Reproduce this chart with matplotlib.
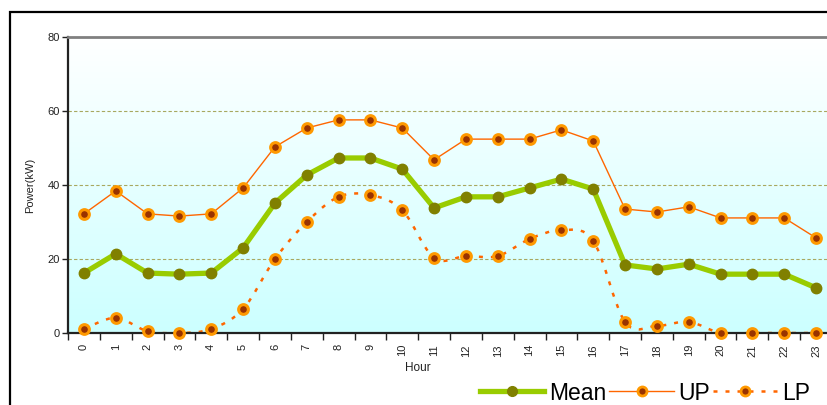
import numpy as np
import matplotlib
matplotlib.use("Agg")
import matplotlib.pyplot as plt
from matplotlib.path import Path
from matplotlib.patches import PathPatch, Rectangle
from matplotlib.lines import Line2D

plt.rcParams['font.family'] = ['Liberation Sans', 'DejaVu Sans']

hours = list(range(24))
mean_kw = [16.2, 21.4, 16.2, 15.9, 16.2, 23.0, 35.1, 42.7, 47.3, 47.3, 44.3, 33.8,
           36.8, 36.8, 39.2, 41.6, 38.9, 18.4, 17.3, 18.6, 15.9, 15.9, 15.9, 12.2]
up_kw = [32.2, 38.4, 32.2, 31.6, 32.2, 39.2, 50.3, 55.4, 57.6, 57.6, 55.4, 46.8,
         52.4, 52.4, 52.4, 54.9, 51.9, 33.5, 32.7, 34.1, 31.1, 31.1, 31.1, 25.7]
lp_kw = [1.1, 4.1, 0.5, 0.0, 1.1, 6.5, 20.0, 30.0, 36.8, 37.3, 33.2, 20.3,
         20.8, 20.8, 25.4, 27.8, 24.9, 3.0, 1.9, 3.0, 0.0, 0.0, 0.0, 0.0]
y_ticks = [0, 20, 40, 60, 80]


def smooth_path(xs, ys):
    """Catmull-Rom style bezier path through the given points."""
    pts = np.column_stack([xs, ys]).astype(float)
    n = len(pts)
    verts = [pts[0]]
    codes = [Path.MOVETO]
    for i in range(n - 1):
        p0 = pts[i - 1] if i > 0 else pts[i]
        p1 = pts[i]
        p2 = pts[i + 1]
        p3 = pts[i + 2] if i + 2 < n else pts[i + 1]
        c1 = p1 + (p2 - p0) / 6.0
        c2 = p2 - (p3 - p1) / 6.0
        verts += [c1, c2, p2]
        codes += [Path.CURVE4] * 3
    return Path(verts, codes)


W, H = 827, 405
fig = plt.figure(figsize=(W / 100, H / 100), dpi=100)
ax = fig.add_axes([68 / W, 1 - 333 / H, (832 - 68) / W, (333 - 37) / H])

# outer chart frame
fig.patches.append(Rectangle((10 / W, -0.2), 1.2, 0.2 + (1 - 12 / H),
                             transform=fig.transFigure, fill=False,
                             edgecolor='black', linewidth=1.6, clip_on=False))

# background gradient, white at top to pale cyan at bottom
grad = np.linspace(0, 1, 256).reshape(-1, 1, 1)
top = np.array([1.0, 1.0, 1.0])
bottom = np.array([0xcc, 0xff, 0xff]) / 255.0
img = top + (bottom - top) * grad
ax.imshow(img, extent=[-0.5, 23.5, 0, 80], aspect='auto', origin='upper', zorder=0)

ax.set_xlim(-0.5, 23.5)
ax.set_ylim(0, 80)

for yv in [20, 40, 60]:
    ax.axhline(yv, color='#a8a860', linewidth=0.8, linestyle=(0, (3, 2)), zorder=1)

orange_marker = dict(marker='o', markersize=7, markerfacecolor='#993300',
                     markeredgecolor='#ff9900', markeredgewidth=2.2)

# LP: smoothed dashed line
lp_patch = PathPatch(smooth_path(hours, lp_kw), fill=False, edgecolor='#ff6600',
                     linewidth=1.8, linestyle=(0, (1.6, 3.2)), zorder=2)
ax.add_patch(lp_patch)
ax.plot(hours, lp_kw, linestyle='none', zorder=5, clip_on=False, **orange_marker)

ax.plot(hours, up_kw, color='#ff6600', linewidth=1.0, zorder=4, **orange_marker)

ax.plot(hours, mean_kw, color='#99cc00', linewidth=3.8, marker='o', markersize=7.5,
        markerfacecolor='#808000', markeredgecolor='#808000', zorder=6)

# axes styling
ax.spines['top'].set_color('#808080')
ax.spines['top'].set_linewidth(2.0)
ax.spines['left'].set_color('#222222')
ax.spines['left'].set_linewidth(1.6)
ax.spines['bottom'].set_color('#222222')
ax.spines['bottom'].set_linewidth(1.6)
ax.spines['right'].set_visible(False)

ax.set_yticks(y_ticks)
ax.set_yticklabels([str(v) for v in y_ticks])
ax.tick_params(axis='y', direction='out', length=4, width=1, pad=2,
               labelsize=8, colors='#222222')

ax.set_xticks(np.arange(-0.5, 24, 1.0))
ax.set_xticklabels([])
ax.set_xticks(hours, minor=True)
ax.set_xticklabels([str(h) for h in hours], minor=True, rotation=90, fontsize=8)
ax.tick_params(axis='x', which='major', direction='out', length=5, width=1, color='#222222')
ax.tick_params(axis='x', which='minor', length=0, pad=8, colors='#222222')

ax.set_ylabel('Power(kW)', fontsize=8, color='#222222')
ax.yaxis.set_label_coords(-0.043, 0.5)
ax.set_xlabel('Hour', fontsize=8.5, color='#222222')
ax.xaxis.set_label_coords(0.458, -0.097)

handles = [
    Line2D([], [], color='#99cc00', linewidth=3.8, marker='o', markersize=7,
           markerfacecolor='#808000', markeredgecolor='#808000'),
    Line2D([], [], color='#ff6600', linewidth=1.0, marker='o', markersize=6.5,
           markerfacecolor='#993300', markeredgecolor='#ff9900', markeredgewidth=2.0),
    Line2D([], [], color='#ff6600', linewidth=1.8, linestyle=(0, (1.6, 3.2)), marker='o',
           markersize=6.5, markerfacecolor='#993300', markeredgecolor='#ff9900',
           markeredgewidth=2.0),
]
fig.legend(handles, ['Mean', 'UP', 'LP'], loc='center left',
           bbox_to_anchor=(480 / W, 1 - 393 / H), ncol=3, frameon=False,
           fontsize=16.5, handlelength=2.8, handletextpad=0.2, columnspacing=0.15,
           borderpad=0, borderaxespad=0)

fig.savefig('out.png', dpi=100)
